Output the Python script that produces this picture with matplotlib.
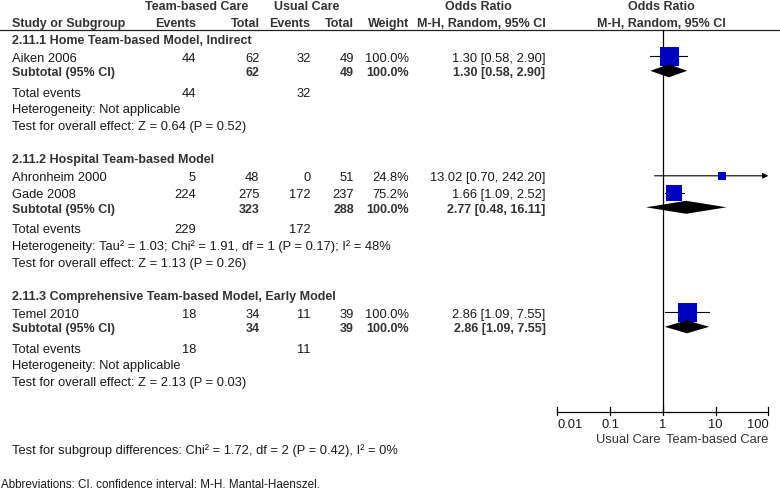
import numpy as np
import matplotlib
matplotlib.use("Agg")
import matplotlib.pyplot as plt

plt.rcParams['font.family'] = ['Liberation Sans', 'DejaVu Sans']

# data
group_names = ['2.11.1 Home Team-based Model, Indirect',
               '2.11.2 Hospital Team-based Model',
               '2.11.3 Comprehensive Team-based Model, Early Model']
study_names = [['Aiken 2006'], ['Ahronheim 2000', 'Gade 2008'], ['Temel 2010']]
tb_events = [[44], [5, 224], [18]]
tb_total = [[62], [48, 275], [34]]
uc_events = [[32], [0, 172], [11]]
uc_total = [[49], [51, 237], [39]]
weights = [[100.0], [24.8, 75.2], [100.0]]
or_est = [[1.30], [13.02, 1.66], [2.86]]
or_lo = [[0.58], [0.70, 1.09], [1.09]]
or_hi = [[2.90], [242.20, 2.52], [7.55]]

sub_tb_total = [62, 323, 34]
sub_uc_total = [49, 288, 39]
sub_or = [1.30, 2.77, 2.86]
sub_lo = [0.58, 0.48, 1.09]
sub_hi = [2.90, 16.11, 7.55]
sub_tb_events = [44, 229, 18]
sub_uc_events = [32, 172, 11]
heterogeneity = ['Heterogeneity: Not applicable',
                 'Heterogeneity: Tau\u00b2 = 1.03; Chi\u00b2 = 1.91, df = 1 (P = 0.17); I\u00b2 = 48%',
                 'Heterogeneity: Not applicable']
overall = ['Test for overall effect: Z = 0.64 (P = 0.52)',
           'Test for overall effect: Z = 1.13 (P = 0.26)',
           'Test for overall effect: Z = 2.13 (P = 0.03)']

axis_ticks = [0.01, 0.1, 1, 10, 100]
axis_labels = ['0.01', '0.1', '1', '10', '100']

W, H = 780, 489
TXT = '#1a1a1a'
BOLD = '#333333'
BLUE = '#0000c0'
FS = 9.3
FSB = 9
DY = 1.5

fig = plt.figure(figsize=(W / 100, H / 100), dpi=100)
ax = fig.add_axes([0, 0, 1, 1])
ax.set_xlim(0, W)
ax.set_ylim(H, 0)
ax.axis('off')

x0, x1 = 557.3, 768.3
fax = fig.add_axes([x0 / W, 0, (x1 - x0) / W, 1])
fax.set_xscale('log')
fax.set_xlim(0.01, 100)
fax.set_ylim(H, 0)
fax.axis('off')

# column right edges
c_tbe, c_tbt, c_uce, c_uct, c_w, c_or = 196, 259.5, 310.5, 354, 409, 545.5


def t(x, y, s, ha='left', bold=False, **kw):
    ax.text(x, y + DY, s, ha=ha, va='center', fontsize=FSB if bold else FS,
            fontweight='bold' if bold else 'normal',
            color=BOLD if bold else TXT, **kw)


# header
t(197, 5, 'Team-based Care', ha='center', bold=True)
t(306.5, 5, 'Usual Care', ha='center', bold=True)
t(478, 5, 'Odds Ratio', ha='center', bold=True)
t(661.5, 5, 'Odds Ratio', ha='center', bold=True)
t(12, 22.5, 'Study or Subgroup', bold=True)
t(c_tbe, 22.5, 'Events', ha='right', bold=True)
t(c_tbt, 22.5, 'Total', ha='right', bold=True)
t(c_uce, 22.5, 'Events', ha='right', bold=True)
t(c_uct, 22.5, 'Total', ha='right', bold=True)
t(c_w, 22.5, 'Weight', ha='right', bold=True)
t(c_or, 22.5, 'M-H, Random, 95% CI', ha='right', bold=True)
t(661.5, 22.5, 'M-H, Random, 95% CI', ha='center', bold=True)
ax.plot([0, W], [30.7, 30.7], color='#222222', lw=0.9)

y = 39.3
for g in range(len(group_names)):
    t(12, y, group_names[g], bold=True)
    ys = y + 18
    for i, name in enumerate(study_names[g]):
        t(12, ys, name)
        t(c_tbe, ys, str(tb_events[g][i]), ha='right')
        t(c_tbt, ys, str(tb_total[g][i]), ha='right')
        t(c_uce, ys, str(uc_events[g][i]), ha='right')
        t(c_uct, ys, str(uc_total[g][i]), ha='right')
        t(c_w, ys, '%.1f%%' % weights[g][i], ha='right')
        t(c_or, ys, '%.2f [%.2f, %.2f]' % (or_est[g][i], or_lo[g][i], or_hi[g][i]), ha='right')
        lo, hi = or_lo[g][i], or_hi[g][i]
        if hi > 100:
            fax.annotate('', xy=(100, ys), xytext=(lo, ys),
                         arrowprops=dict(arrowstyle='-|>', color='black', lw=0.8,
                                         mutation_scale=8, shrinkA=0, shrinkB=0),
                         annotation_clip=False)
        else:
            fax.plot([lo, hi], [ys, ys], color='black', lw=0.8, clip_on=False)
        side = 4 + 15 * weights[g][i] / 100.0
        fax.plot([or_est[g][i]], [ys], marker='s', ms=side * 0.72, color=BLUE,
                 mec=BLUE, mew=0, clip_on=False, zorder=3)
        ys += 17
    ysub = ys - 17 + 14.5
    t(12, ysub, 'Subtotal (95% CI)', bold=True)
    t(c_tbt, ysub, str(sub_tb_total[g]), ha='right', bold=True)
    t(c_uct, ysub, str(sub_uc_total[g]), ha='right', bold=True)
    t(c_w, ysub, '100.0%', ha='right', bold=True)
    t(c_or, ysub, '%.2f [%.2f, %.2f]' % (sub_or[g], sub_lo[g], sub_hi[g]), ha='right', bold=True)
    fax.fill([sub_lo[g], sub_or[g], sub_hi[g], sub_or[g]],
             [ysub, ysub - 6.5, ysub, ysub + 6.5], color='black', lw=0, clip_on=False, zorder=3)
    yte = ysub + 20.5
    t(12, yte, 'Total events')
    t(c_tbe, yte, str(sub_tb_events[g]), ha='right')
    t(c_uce, yte, str(sub_uc_events[g]), ha='right')
    t(12, yte + 16.5, heterogeneity[g])
    t(12, yte + 33.5, overall[g])
    y = yte + 33.5 + 33

# null line and axis
y_axis = 413
fax.plot([1, 1], [30.7, y_axis], color='black', lw=0.9, clip_on=False)
fax.plot([0.01, 100], [y_axis, y_axis], color='black', lw=0.9, clip_on=False)
for v, lab in zip(axis_ticks, axis_labels):
    fax.plot([v, v], [y_axis - 5, y_axis + 3], color='black', lw=0.9, clip_on=False)
    ha = 'left' if v == axis_ticks[0] else ('right' if v == axis_ticks[-1] else 'center')
    fax.text(v, 423.5 + DY, lab, ha=ha, va='center', fontsize=FS, color=TXT)
fax.text(0.9, 438.5 + DY, 'Usual Care', ha='right', va='center', fontsize=FS, color=BOLD)
fax.text(1.13, 438.5 + DY, 'Team-based Care', ha='left', va='center', fontsize=FS, color=BOLD)

t(12, 449, 'Test for subgroup differences: Chi\u00b2 = 1.72, df = 2 (P = 0.42), I\u00b2 = 0%')
ax.text(1, 483 + DY, 'Abbreviations: CI, confidence interval; M-H, Mantal-Haenszel.',
        ha='left', va='center', fontsize=8.4, color=TXT)

fig.savefig('out.png', dpi=100)
